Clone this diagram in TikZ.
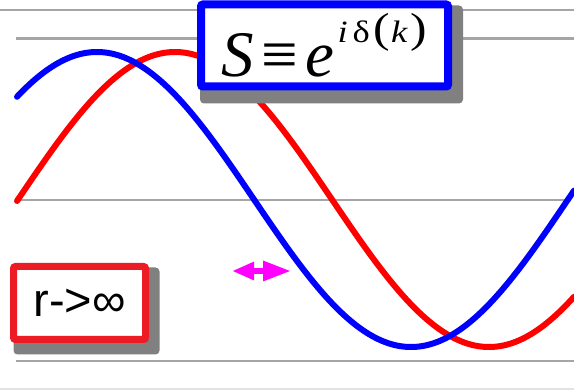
\documentclass[tikz,border=0pt]{standalone}
\usepackage{fontspec}
\setmainfont{Liberation Serif}
\newfontfamily\serifmath{Liberation Serif}
\newfontfamily\arialfont{Liberation Sans}
\usetikzlibrary{arrows.meta,calc}
\definecolor{gline}{RGB}{165,165,165}
\definecolor{fline}{RGB}{226,226,226}
\definecolor{rbox}{RGB}{237,28,36}
\definecolor{shd}{RGB}{128,128,128}
\definecolor{mag}{RGB}{255,0,255}
\definecolor{pureblue}{RGB}{0,0,255}
\definecolor{purered}{RGB}{255,0,0}
\pgfdeclarelayer{shadowlayer}
\pgfdeclarelayer{frontlayer}
\pgfsetlayers{main,shadowlayer,frontlayer}
\tikzset{
  gridline/.style={draw=gline, line width=2.5pt},
  faintline/.style={draw=fline, line width=1.5pt},
  wave/.style={line width=6pt, line cap=round, line join=round},
  framebox/.style={fill=white, rounded corners=2pt, inner sep=0pt},
  shadowbox/.style={fill=shd, rounded corners=4pt},
  shiftarrow/.style={draw=mag, line width=6pt,
    {Triangle[length=22pt,width=17pt]}-{Triangle[length=28pt,width=19pt]}}
}
\newcommand{\supfont}{\fontsize{31}{31}\selectfont}
\newcommand{\parfont}{\fontsize{42}{42}\selectfont}
\begin{document}
\begin{tikzpicture}[x=1pt,y=-1pt]
\useasboundingbox (0,0) rectangle (574,390);
\fill[white] (0,0) rectangle (574,390);
% guide lines
\coordinate (l1a) at (0,10);    \coordinate (l1b) at (574,10);
\coordinate (l2a) at (16,38.5); \coordinate (l2b) at (574,38.5);
\coordinate (l3a) at (17,200);  \coordinate (l3b) at (566,200);
\coordinate (l4a) at (16,361);  \coordinate (l4b) at (574,361);
\coordinate (l5a) at (0,389);   \coordinate (l5b) at (574,389);
\draw[gridline] (l1a) -- (l1b);
\draw[gridline] (l2a) -- (l2b);
\draw[gridline] (l3a) -- (l3b);
\draw[gridline] (l4a) -- (l4b);
\draw[faintline] (l5a) -- (l5b);
% waves
\draw[wave, purered] plot[domain=17:574, samples=300] (\x, {199.5-147.5*cos(0.57325*(\x-175))});
\draw[wave, pureblue] plot[domain=17:574, samples=300] (\x, {199.5-147.5*cos(0.57325*(\x-97))});
% arrow
\coordinate (al) at (232,271);
\coordinate (ar) at (291,271);
\draw[shiftarrow] (al) -- (ar);
% boxes
\begin{pgfonlayer}{frontlayer}
\node[framebox, draw=pureblue, line width=8pt, minimum width=247pt, minimum height=82pt] (sbox) at (324.5,45.5)
  {\serifmath\fontsize{65}{65}\selectfont\itshape S\kern7pt\upshape ≡\kern8pt\itshape e\kern3pt\raisebox{34pt}{\scalebox{1.18}[1]{\supfont\itshape i\kern4pt\upshape δ\kern3pt{\parfont(}\kern1pt\itshape k\kern3pt\upshape{\parfont)}}}};
\node[framebox, draw=rbox, line width=7pt, minimum width=132pt, minimum height=73pt] (rbox) at (79.5,303)
  {\arialfont\fontsize{47}{47}\selectfont r->∞};
\end{pgfonlayer}
\begin{pgfonlayer}{shadowlayer}
\fill[shadowbox] ($(sbox.north west)+(3,5)$) rectangle ($(sbox.south east)+(11,13)$);
\fill[shadowbox] ($(rbox.north west)+(3.5,4.5)$) rectangle ($(rbox.south east)+(10.5,11.5)$);
\end{pgfonlayer}
\end{tikzpicture}
\end{document}
